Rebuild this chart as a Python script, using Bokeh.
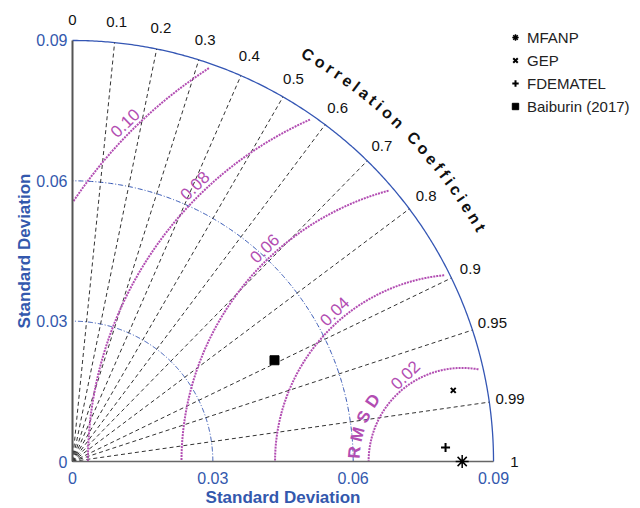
import numpy as np
from bokeh.plotting import figure
from bokeh.models import Range1d, Legend, LegendItem
from bokeh.embed import file_html
from bokeh.resources import INLINE
from bokeh.core.properties import value

# ---------------- data ----------------
models = ["MFANP", "GEP", "FDEMATEL", "Baiburin (2017)"]
model_markers = ["asterisk", "x", "cross", "square"]
model_std = [0.0833, 0.0828, 0.0798, 0.0483]
model_corr = [1.0, 0.983, 0.9993, 0.894]
ref_std = 0.0833

corr_ticks = [0.0, 0.1, 0.2, 0.3, 0.4, 0.5, 0.6, 0.7, 0.8, 0.9, 0.95, 0.99, 1.0]
corr_tick_labels = ["0", "0.1", "0.2", "0.3", "0.4", "0.5", "0.6", "0.7", "0.8",
                    "0.9", "0.95", "0.99", "1"]
std_ticks = [0.0, 0.03, 0.06, 0.09]
std_tick_labels = ["0", "0.03", "0.06", "0.09"]
std_circles = [0.03, 0.06]
max_std = 0.09
rmsd_levels = [0.02, 0.04, 0.06, 0.08, 0.10]
rmsd_tick_labels = ["0.02", "0.04", "0.06", "0.08", "0.10"]
corr_title = "Correlation Coefficient"
rmsd_title = "RMSD"
axis_title = "Standard Deviation"

# ---------------- styling ----------------
FONT_NAME = "Liberation Sans"
FONT = value(FONT_NAME)
BLUE = "#3456b4"
BLUE_TXT = "#3358ad"
PURPLE = "#b24db2"
W, H = 640, 508
S = 4678.0            # pixels per std unit
OX, OY = 72, 47       # origin offset (px) from left / bottom of the frame

x0 = -OX / S
y0 = -OY / S
p = figure(width=W, height=H,
           x_range=Range1d(x0, x0 + W / S), y_range=Range1d(y0, y0 + H / S),
           output_backend="svg", toolbar_location=None, min_border=0,
           x_axis_type=None, y_axis_type=None)
p.outline_line_color = None
p.background_fill_color = "white"
p.border_fill_color = "white"

def px(n):
    return n / S

# standard deviation arcs
th = np.linspace(0, np.pi / 2, 300)
for r in std_circles:
    p.line(r * np.cos(th), r * np.sin(th), line_color=BLUE, line_width=1,
           line_dash="5 2 1 2")
p.line(max_std * np.cos(th), max_std * np.sin(th), line_color=BLUE, line_width=1.3)

# correlation rays
ray_corr = np.array(corr_ticks[1:-1])
ray_ang = np.arccos(ray_corr)
p.multi_line([[0, max_std * np.cos(a)] for a in ray_ang],
             [[0, max_std * np.sin(a)] for a in ray_ang],
             line_color="#333333", line_width=1, line_dash="4 3")

# RMSD contours
t = np.linspace(0, np.pi, 800)
for L in rmsd_levels:
    cx = ref_std + L * np.cos(t)
    cy = L * np.sin(t)
    m = (cx >= 0) & (np.hypot(cx, cy) <= 0.089)
    p.line(cx[m], cy[m], line_color=PURPLE, line_width=2, line_dash="2 1")

# axes lines
p.line([0, 0], [0, max_std], line_color="#555555", line_width=2)
p.line([0, max_std], [0, 0], line_color="#666666", line_width=1.5)

# std tick labels
p.text(x=[0] * len(std_ticks), y=std_ticks, text=std_tick_labels, x_offset=-5,
       text_align="right", text_baseline="middle", text_font=FONT,
       text_font_size="16px", text_color=BLUE_TXT)
p.text(x=std_ticks, y=[0] * len(std_ticks), text=std_tick_labels, y_offset=16,
       text_align="center", text_baseline="middle", text_font=FONT,
       text_font_size="16px", text_color=BLUE_TXT)

# axis titles
p.text(x=[max_std / 2], y=[0], text=[axis_title], y_offset=36,
       text_align="center", text_baseline="middle", text_font=FONT,
       text_font_size="17px", text_font_style="bold", text_color=BLUE_TXT)
p.text(x=[0], y=[max_std / 2], text=[axis_title], x_offset=-48, angle=np.pi / 2,
       text_align="center", text_baseline="middle", text_font=FONT,
       text_font_size="17px", text_font_style="bold", text_color=BLUE_TXT)

# correlation tick labels
r_lab = px(442)
ca = np.arccos(np.array(corr_ticks))
p.text(x=r_lab * np.cos(ca), y=r_lab * np.sin(ca), text=corr_tick_labels,
       text_align="center", text_baseline="middle", text_font=FONT,
       text_font_size="15px", text_color="#111111")

# "Correlation Coefficient" along an arc
bold_w = {"C": .722, "o": .611, "r": .389, "e": .556, "l": .278, "a": .556,
          "t": .333, "i": .278, "n": .611, " ": .278, "f": .333, "c": .556}
fs = 16.0
widths = np.array([bold_w[c] * fs for c in corr_title])
R_title = 470.0
a_start, a_end = np.deg2rad(59.95), np.deg2rad(29.8)
span_px = (a_start - a_end) * R_title
base = np.concatenate([[0], np.cumsum((widths[:-1] + widths[1:]) / 2)])
ls = (span_px - base[-1]) / (len(corr_title) - 1)
centers = base + ls * np.arange(len(corr_title))
phi = a_start - centers / R_title
p.text(x=px(R_title) * np.cos(phi), y=px(R_title) * np.sin(phi),
       text=list(corr_title), angle=phi - np.pi / 2,
       text_align="center", text_baseline="middle", text_font=FONT,
       text_font_size="16px", text_font_style="bold", text_color="#111111")

# RMSD contour labels (placed along a straight guide line)
P1 = np.array([px(331), px(88)])
d = np.array([-278.0, 250.0]); d /= np.linalg.norm(d)
Q = P1 - np.array([ref_std, 0.0])
lx, ly = [], []
for L in rmsd_levels:
    R = L + px(10)
    qd = Q @ d
    tt = -qd + np.sqrt(qd ** 2 - Q @ Q + R ** 2)
    pt = P1 + tt * d
    lx.append(pt[0]); ly.append(pt[1])
p.text(x=lx, y=ly, text=rmsd_tick_labels, angle=np.deg2rad(44),
       text_align="center", text_baseline="middle", text_font=FONT,
       text_font_size="17px", text_color=PURPLE)

# "RMSD" title along the 0.02 contour
r_r = px(108)
phr = np.deg2rad(175.2 - 9.8 * np.arange(len(rmsd_title)))
p.text(x=ref_std + r_r * np.cos(phr), y=r_r * np.sin(phr), text=list(rmsd_title),
       angle=phr - np.pi / 2, text_align="center", text_baseline="middle",
       text_font=FONT, text_font_size="17px", text_font_style="bold",
       text_color=PURPLE)

# model points
mk_style = {
    "asterisk": dict(size=13, line_width=1.5),
    "x": dict(size=7, line_width=2),
    "cross": dict(size=9, line_width=2),
    "square": dict(size=9, line_width=1),
}
items = []
for name, mk, s, c in zip(models, model_markers, model_std, model_corr):
    a = np.arccos(c)
    r = p.scatter(x=[s * np.cos(a)], y=[s * np.sin(a)], marker=mk,
                  line_color="black", fill_color="black", **mk_style[mk])
    items.append(LegendItem(label=name, renderers=[r]))

legend = Legend(items=items, location=(507, 392), glyph_width=16, glyph_height=20,
                label_standoff=4, label_height=20, spacing=3, padding=0, margin=0,
                border_line_color=None, background_fill_alpha=0,
                label_text_font=FONT_NAME, label_text_font_size="15px",
                label_text_color="#222222")
p.add_layout(legend)

open("out.html", "w").write(file_html(p, INLINE))
